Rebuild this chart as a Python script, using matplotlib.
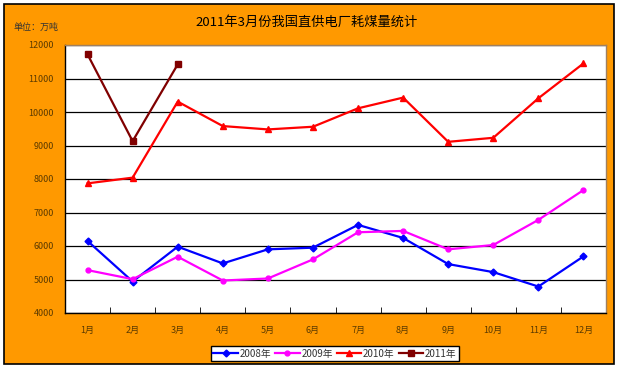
import numpy as np
import matplotlib
matplotlib.use('Agg')
import matplotlib.pyplot as plt
from matplotlib.patches import Rectangle

plt.rcParams['font.family'] = ['Noto Sans CJK SC', 'DejaVu Sans']

# data (10k tonnes)
months = ['1月', '2月', '3月', '4月', '5月', '6月', '7月', '8月', '9月', '10月', '11月', '12月']
y2008 = [6150, 4940, 5980, 5480, 5900, 5950, 6630, 6240, 5460, 5220, 4790, 5690]
y2009 = [5280, 5010, 5680, 4970, 5030, 5600, 6410, 6450, 5900, 6030, 6780, 7670]
y2010 = [7870, 8040, 10310, 9580, 9480, 9560, 10110, 10430, 9110, 9230, 10410, 11450]
y2011 = [11720, 9130, 11420]
yticks = np.arange(4000, 12001, 1000)

fig = plt.figure(figsize=[6.2, 3.69], dpi=100)
fig.patch.set_facecolor('white')

# orange chart area with black frame
bg = Rectangle((4/620, 1 - 364/369), 610/620, 360/369, transform=fig.transFigure,
               facecolor='#FF9900', edgecolor='black', lw=1.2, zorder=-10)
fig.patches.append(bg)

ax = fig.add_axes([65/620, 1 - 313/369, 541/620, 268/369])
ax.set_facecolor('white')

x = np.arange(len(months))
ax.plot(x, y2008, color='#0000FF', lw=1.6, marker='D', ms=3.5, label='2008年', zorder=3)
ax.plot(x, y2009, color='#FF00FF', lw=1.6, marker='o', ms=3.5, label='2009年', zorder=3)
ax.plot(x, y2010, color='#FF0000', lw=1.6, marker='^', ms=4, label='2010年', zorder=3)
ax.plot(x[:len(y2011)], y2011, color='#800000', lw=1.6, marker='s', ms=4, label='2011年', zorder=4)

ax.set_xlim(-0.5, len(months) - 0.5)
ax.set_ylim(4000, 12000)
ax.set_yticks(yticks)
ax.set_yticklabels([str(v) for v in yticks], fontsize=6.5, color='#5a3a00')
ax.yaxis.grid(True, color='black', lw=0.9)
ax.set_axisbelow(True)
ax.tick_params(axis='y', length=0, pad=8)

ax.set_xticks(x)
ax.set_xticklabels(months, fontsize=6.5, color='#5a3a00')
ax.set_xticks(np.arange(-0.5, len(months)), minor=True)
ax.tick_params(axis='x', which='major', length=0, pad=9)
ax.tick_params(axis='x', which='minor', direction='in', length=4, color='black')

for s in ['left', 'bottom']:
    ax.spines[s].set_color('black')
    ax.spines[s].set_linewidth(1.0)
for s in ['top', 'right']:
    ax.spines[s].set_color('#a08060')
    ax.spines[s].set_linewidth(1.0)

fig.text(307/620, 1 - 22/369, '2011年3月份我国直供电厂耗煤量统计', ha='center', va='center',
         fontsize=9.5, color='black')
fig.text(14/620, 1 - 27/369, '单位：万吨', ha='left', va='center', fontsize=6.5, color='#333333')

leg = fig.legend(loc='center', bbox_to_anchor=(335/620, 1 - 353.5/369), ncol=4, fontsize=7,
                 frameon=True, fancybox=False, edgecolor='black', framealpha=1,
                 handlelength=2.5, handletextpad=0.2, columnspacing=0.4,
                 borderpad=0.25, borderaxespad=0)
leg.get_frame().set_linewidth(1.0)
for t in leg.get_texts():
    t.set_color('#333333')

fig.savefig('out.png', dpi=100)
